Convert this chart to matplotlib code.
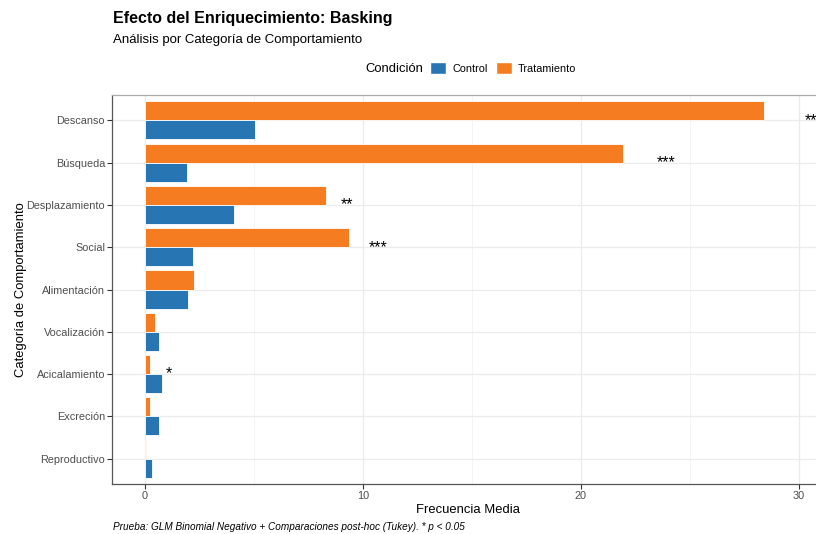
import matplotlib.pyplot as plt
from matplotlib.patches import Patch

# Mean frequency per behaviour category (top to bottom as shown)
categorias = ["Descanso", "Búsqueda", "Desplazamiento", "Social", "Alimentación",
              "Vocalización", "Acicalamiento", "Excreción", "Reproductivo"]
control = [5.05, 1.95, 4.1, 2.2, 1.97, 0.64, 0.78, 0.64, 0.32]
tratamiento = [28.4, 21.95, 8.3, 9.38, 2.25, 0.46, 0.23, 0.23, 0.05]
significancia = ["***", "***", "**", "***", "", "", "*", "", ""]

COL_CONTROL = "#2776B3"
COL_TRAT = "#F57C21"


def main():
    plt.rcParams["font.family"] = ["Liberation Sans", "DejaVu Sans"]

    fig = plt.figure(figsize=(8.16, 5.34), dpi=100)
    ax = fig.add_axes([112 / 816, 50 / 534, 712 / 816, 389 / 534])

    n = len(categorias)
    ypos = [n - i for i in range(n)]
    h = 0.45

    ax.barh([y + h / 2 for y in ypos], tratamiento, height=h, color=COL_TRAT,
            edgecolor="white", linewidth=0.6, zorder=3)
    ax.barh([y - h / 2 for y in ypos], control, height=h, color=COL_CONTROL,
            edgecolor="white", linewidth=0.6, zorder=3)

    # significance stars, placed a bit right of the longest bar
    for y, c, t, s in zip(ypos, control, tratamiento, significancia):
        if not s:
            continue
        x = max(c, t) * 1.05
        ax.annotate(s, xy=(x, y), xytext=(0.5 * len(s) * 0.389 * 11.5, 0),
                    textcoords="offset points", ha="left", va="center",
                    fontsize=11.5, color="black", zorder=4)

    ax.set_xlim(-1.51, 31.15)
    ax.set_ylim(0.4, 9.6)
    ax.set_xticks([0, 10, 20, 30])
    ax.set_xticks([5, 15, 25], minor=True)
    ax.set_yticks(ypos)
    ax.set_yticklabels(categorias)

    ax.grid(True, which="major", color="#EBEBEB", linewidth=0.9, zorder=0)
    ax.grid(True, which="minor", axis="x", color="#F3F3F3", linewidth=0.6, zorder=0)
    ax.tick_params(axis="both", which="major", length=3.5, width=0.8,
                   color="#333333", labelsize=7.8, labelcolor="#4D4D4D", pad=1.5)
    ax.tick_params(axis="both", which="minor", length=0)
    for side in ["left", "bottom"]:
        ax.spines[side].set_color("#555555")
        ax.spines[side].set_linewidth(0.9)
    ax.spines["top"].set_color("#AAAAAA")
    ax.spines["top"].set_linewidth(0.9)
    ax.spines["right"].set_color("#AAAAAA")

    ax.set_xlabel("Frecuencia Media", fontsize=9.4, labelpad=2)
    ax.set_ylabel("Categoría de Comportamiento", fontsize=9.4)
    ax.yaxis.set_label_coords(-0.12, 0.5)

    fig.text(113 / 816, 1 - 18 / 534, "Efecto del Enriquecimiento: Basking",
             fontsize=11.5, fontweight="bold", va="center", ha="left")
    fig.text(113 / 816, 1 - 40 / 534, "Análisis por Categoría de Comportamiento",
             fontsize=9.5, va="center", ha="left")
    fig.text(113 / 816, 1 - 527 / 534,
             "Prueba: GLM Binomial Negativo + Comparaciones post-hoc (Tukey). * p < 0.05",
             fontsize=7.2, style="italic", va="center", ha="left")

    # legend laid out horizontally with its title on the left
    fig.text(423 / 816, 1 - 69 / 534, "Condición", fontsize=9.4,
             va="center", ha="right")
    handles = [Patch(facecolor=COL_CONTROL, edgecolor="white", label="Control"),
               Patch(facecolor=COL_TRAT, edgecolor="white", label="Tratamiento")]
    fig.legend(handles=handles, ncol=2, loc="center left",
               bbox_to_anchor=(430 / 816, 1 - 68 / 534), frameon=False,
               fontsize=7.8, handlelength=1.5, handleheight=1.4,
               handletextpad=0.55, columnspacing=0.75, borderpad=0,
               borderaxespad=0)

    fig.savefig("out.png", dpi=100)


if __name__ == "__main__":
    main()
